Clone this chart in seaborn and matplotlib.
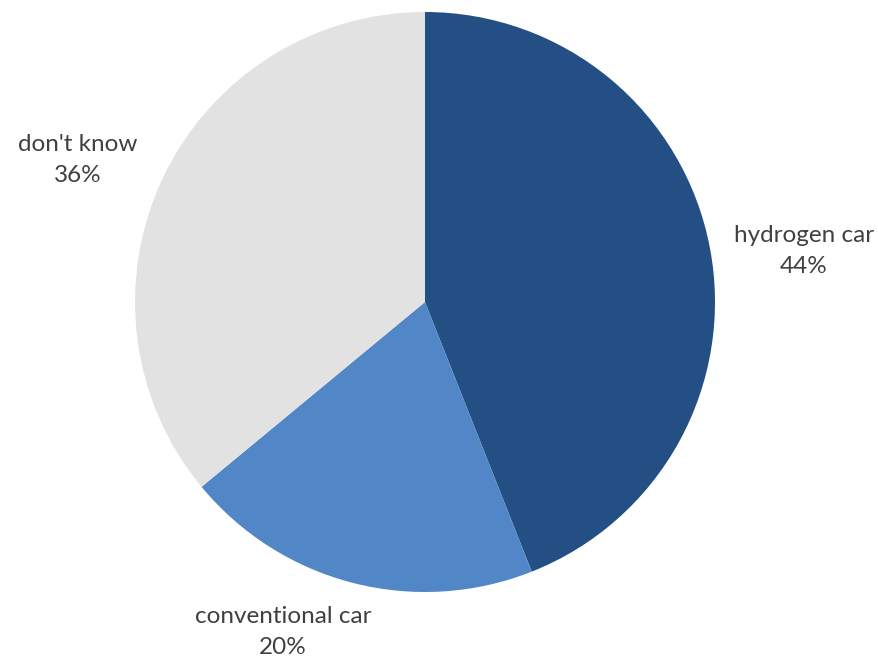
import matplotlib
matplotlib.use("Agg")
import matplotlib.pyplot as plt
import seaborn as sns

categories = ["hydrogen car", "conventional car", "don't know"]
shares = [44, 20, 36]
colors = ["#244F84", "#5187C7", "#E2E2E2"]

sns.set_theme(style="white")
plt.rcParams["font.family"] = ["Lato", "DejaVu Sans"]

W, H = 879, 660
fig = plt.figure(figsize=(W / 100, H / 100), dpi=100)
cx, cy, r = 425, 302, 290
ax = fig.add_axes([(cx - r) / W, (H - cy - r) / H, 2 * r / W, 2 * r / H])
ax.pie(shares, colors=colors, startangle=90, counterclock=False, radius=1,
       wedgeprops=dict(linewidth=0))
ax.set_xlim(-1, 1)
ax.set_ylim(-1, 1)
ax.set_aspect("equal")
ax.axis("off")

label_px = [(804, 251), (283, 632), (78, 160)]
for name, val, (px, py) in zip(categories, shares, label_px):
    ax.text((px - cx) / r, (cy - py) / r, f"{name}\n{val}%", ha="center", va="center",
            fontsize=17.5, color="#404040", linespacing=1.6, clip_on=False)

fig.savefig("out.png", dpi=100, facecolor="white")
